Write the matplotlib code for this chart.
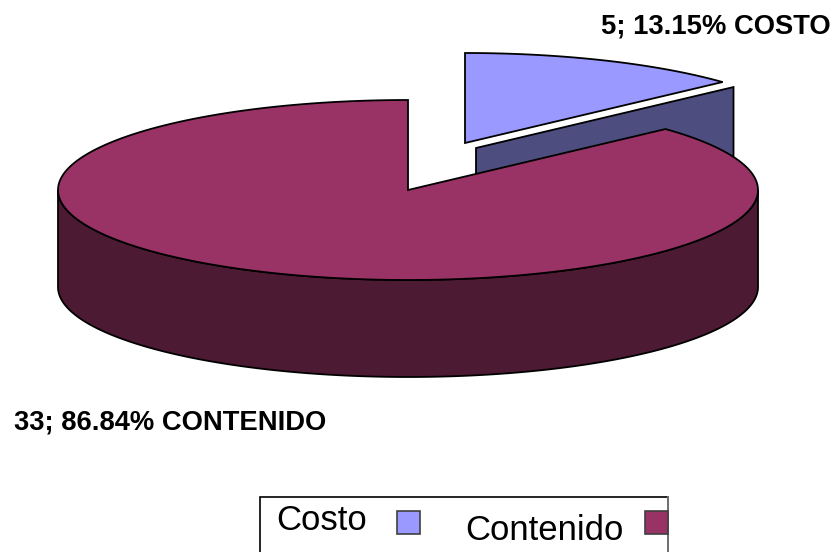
import numpy as np
import matplotlib
matplotlib.use('Agg')
import matplotlib.pyplot as plt
from matplotlib.patches import Polygon, Rectangle

plt.rcParams['font.family'] = ['Liberation Sans', 'DejaVu Sans']

# data
categories = ['Costo', 'Contenido']
values = [5, 33]
slice_labels = ['5; 13.15% COSTO', '33; 86.84% CONTENIDO']
top_colors = ['#9999FF', '#993366']
side_colors = ['#4D4D80', '#4D1A33']

# pie geometry, in pixels
cx, cy = 408, 190
rx, ry = 350, 90
depth = 97
explode = (57, -47)
side_shift = (11, 5)

fig = plt.figure(figsize=(8.35, 5.52), dpi=100)
ax = fig.add_axes([0, 0, 1, 1])
ax.set_xlim(0, 835)
ax.set_ylim(552, 0)
ax.axis('off')


def arc(x0, y0, a0, a1):
    # angles clockwise from the top of the pie, in degrees
    t = np.radians(np.linspace(a0, a1, 200))
    return np.column_stack([x0 + rx * np.sin(t), y0 - ry * np.cos(t)])


angle = 360 * values[0] / sum(values)
lw = 1.3

# costo: side wall behind the big slice
sx, sy = cx + explode[0], cy + explode[1]
px, py = sx + side_shift[0], sy + side_shift[1]
tip = arc(px, py, angle, angle)[0]
wall = [(px, py), tip, (tip[0], tip[1] + depth), (px, py + depth)]
ax.add_patch(Polygon(wall, closed=True, fc=side_colors[0], ec='black', lw=lw, zorder=1))

# costo: top
top = np.vstack([[(sx, sy)], arc(sx, sy, 0, angle)])
ax.add_patch(Polygon(top, closed=True, fc=top_colors[0], ec='black', lw=lw, zorder=2))

# contenido: outer wall
front = arc(cx, cy, 90, 270)
back = front[::-1] + [0, depth]
ax.add_patch(Polygon(np.vstack([front, back]), closed=True, fc=side_colors[1], ec='black', lw=lw, zorder=3))

# contenido: top
top = np.vstack([[(cx, cy)], arc(cx, cy, angle, 360)])
ax.add_patch(Polygon(top, closed=True, fc=top_colors[1], ec='black', lw=lw, zorder=4))

# labels
ax.text(601, 33, slice_labels[0], fontsize=19.7, fontweight='bold', va='baseline')
ax.text(14, 429, slice_labels[1], fontsize=19.7, fontweight='bold', va='baseline')

# legend, cut off by the bottom of the picture
ax.add_patch(Rectangle((260, 497), 408, 70, fc='white', ec='black', lw=1.2, clip_on=True, zorder=5))
ax.plot([668, 668], [497, 552], color='#808080', lw=1.2, zorder=6)
ax.text(276.5, 530, categories[0], fontsize=25, va='baseline', zorder=7)
ax.text(465.5, 540, categories[1], fontsize=25, va='baseline', zorder=7)
ax.add_patch(Rectangle((397, 511), 23, 23, fc=top_colors[0], ec='#404040', lw=1.2, zorder=7))
ax.add_patch(Rectangle((645, 511), 23, 23, fc=top_colors[1], ec='#404040', lw=1.2, zorder=6))

fig.savefig('out.png', dpi=100)
